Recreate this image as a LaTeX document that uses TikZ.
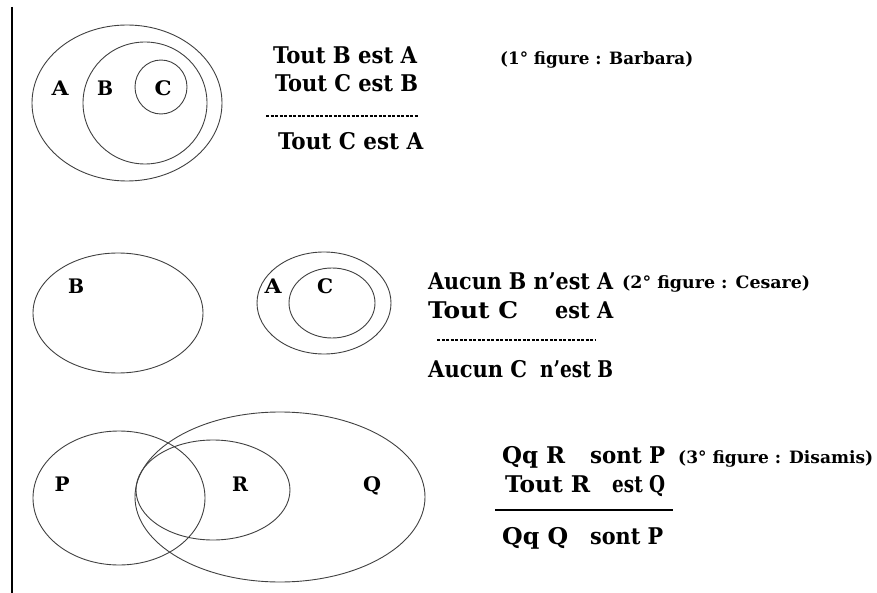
\documentclass[tikz,border=0pt]{standalone}
\usepackage{fontspec}
\usepackage{graphicx}
\newfontfamily\dvb{DejaVu Serif Condensed}
\newcommand{\fw}[2]{\resizebox{#1pt}{\height}{#2}}
\begin{document}
\begin{tikzpicture}[x=1pt,y=-1pt,
  venn/.style={draw=black!75, line width=0.9pt},
  txt/.style={inner sep=0pt, anchor=base west, font=\dvb\bfseries\fontsize{23}{28}\selectfont},
  fig/.style={inner sep=0pt, anchor=base west, font=\dvb\bfseries\fontsize{17}{22}\selectfont},
  lbl/.style={inner sep=0pt, anchor=base, font=\dvb\bfseries\fontsize{20}{24}\selectfont},
  dashrule/.style={draw=black, line width=1.2pt, dash pattern=on 3pt off 1.5pt},
  solidrule/.style={draw=black, line width=1.3pt}]
\useasboundingbox (0,0) rectangle (877,593);
% left rule
\coordinate (lt) at (12,7);
\coordinate (lb) at (12,593);
\draw[line width=2pt] (lt) -- (lb);

% ---------- figure 1 ----------
\draw[venn] (127,103) ellipse [x radius=95pt, y radius=78pt];
\draw[venn] (145,103) ellipse [x radius=62pt, y radius=61pt];
\draw[venn] (161,87) ellipse [x radius=26pt, y radius=27pt];
\node[lbl] (a1) at (60,96) {\fw{17}{A}};
\node[lbl] (b1) at (105,96) {\fw{16}{B}};
\node[lbl] (c1) at (163,96) {\fw{17}{C}};
\node[txt] (t11) at (273,64) {\fw{144}{Tout B est A}};
\node[txt] (t12) at (275,92) {\fw{143}{Tout C est B}};
\coordinate (d1s) at (266,116);
\coordinate (d1e) at (418,116);
\draw[dashrule] (d1s) -- (d1e);
\node[txt] (t13) at (278,150) {\fw{145}{Tout C est A}};
\node[fig] (f1) at (500,65) {\fw{193}{(1° figure : Barbara)}};

% ---------- figure 2 ----------
\draw[venn] (118,313) ellipse [x radius=85pt, y radius=60pt];
\draw[venn] (324,303) ellipse [x radius=67pt, y radius=51pt];
\draw[venn] (332,303) ellipse [x radius=43pt, y radius=35pt];
\node[lbl] (b2) at (76,294) {\fw{16}{B}};
\node[lbl] (a2) at (273,294) {\fw{17}{A}};
\node[lbl] (c2) at (325,294) {\fw{16}{C}};
\node[txt] (t21) at (428,289) {\fw{185}{Aucun B n’est A}};
\node[fig] (f2) at (622,289) {\fw{188}{(2° figure : Cesare)}};
\node[txt] (t22a) at (428,318) {\fw{90}{Tout C}};
\node[txt] (t22b) at (555,318) {\fw{58}{est A}};
\coordinate (d2s) at (437,340);
\coordinate (d2e) at (595,340);
\draw[dashrule] (d2s) -- (d2e);
\node[txt] (t23a) at (428,377) {\fw{99}{Aucun C}};
\node[txt] (t23b) at (540,377) {\fw{73}{n’est B}};

% ---------- figure 3 ----------
\draw[venn] (119,498) ellipse [x radius=86pt, y radius=67pt];
\draw[venn] (280,497) ellipse [x radius=145pt, y radius=85pt];
\draw[venn] (213,490) ellipse [x radius=77pt, y radius=50pt];
\node[lbl] (p3) at (62,491) {\fw{15}{P}};
\node[lbl] (r3) at (240,491) {\fw{16}{R}};
\node[lbl] (q3) at (372,491) {\fw{18}{Q}};
\node[txt] (t31a) at (502,463) {\fw{63}{Qq R}};
\node[txt] (t31b) at (590,463) {\fw{75}{sont P}};
\node[fig] (f3) at (678,463) {\fw{195}{(3° figure : Disamis)}};
\node[txt] (t32a) at (505,492) {\fw{85}{Tout R}};
\node[txt] (t32b) at (612,492) {\fw{53}{est Q}};
\coordinate (d3s) at (495,510);
\coordinate (d3e) at (673,510);
\draw[solidrule] (d3s) -- (d3e);
\node[txt] (t33a) at (502,544) {\fw{66}{Qq Q}};
\node[txt] (t33b) at (590,544) {\fw{73}{sont P}};
\end{tikzpicture}
\end{document}
